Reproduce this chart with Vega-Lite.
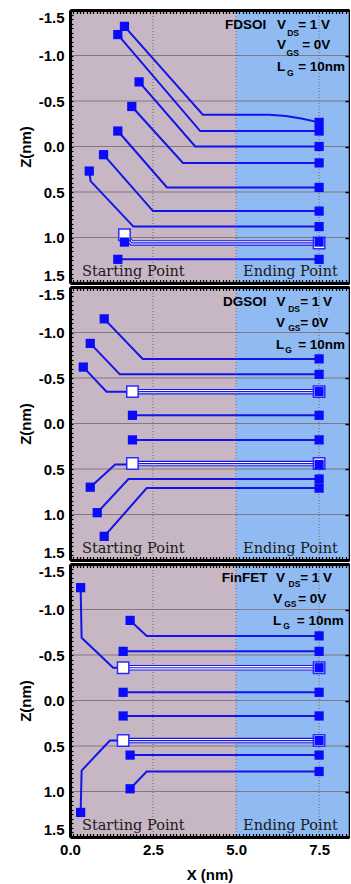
{
"$schema": "https://vega.github.io/schema/vega-lite/v6.json",
"background": "white",
"padding": {"left": 18, "top": 7, "right": 0, "bottom": 0},
"spacing": -4,
"config": {"view": {"stroke": null}},
"datasets": {
"bg": [{"x0": 0, "x1": 5, "zone": "device"}, {"x0": 5, "x1": 8.4, "zone": "contact"}],
"hgrid": [{"z": -1}, {"z": -0.5}, {"z": 0}, {"z": 0.5}, {"z": 1}],
"vgrid": [{"x": 2.5}, {"x": 5}, {"x": 7.5}],
"lines": [
{"p":"FDSOI","id":"F1","k":"filled","i":0,"pt":"s","x":1.64,"z":-1.32},
{"p":"FDSOI","id":"F1","k":"filled","i":1,"pt":"m","x":4.0,"z":-0.35},
{"p":"FDSOI","id":"F1","k":"filled","i":2,"pt":"m","x":6.0,"z":-0.35},
{"p":"FDSOI","id":"F1","k":"filled","i":3,"pt":"m","x":6.5,"z":-0.335},
{"p":"FDSOI","id":"F1","k":"filled","i":4,"pt":"m","x":7.0,"z":-0.305},
{"p":"FDSOI","id":"F1","k":"filled","i":5,"pt":"e","x":7.5,"z":-0.265},
{"p":"FDSOI","id":"F2","k":"filled","i":0,"pt":"s","x":1.44,"z":-1.23},
{"p":"FDSOI","id":"F2","k":"filled","i":1,"pt":"m","x":3.92,"z":-0.17},
{"p":"FDSOI","id":"F2","k":"filled","i":2,"pt":"e","x":7.5,"z":-0.17},
{"p":"FDSOI","id":"F3","k":"filled","i":0,"pt":"s","x":2.08,"z":-0.71},
{"p":"FDSOI","id":"F3","k":"filled","i":1,"pt":"m","x":3.77,"z":0.0},
{"p":"FDSOI","id":"F3","k":"filled","i":2,"pt":"e","x":7.5,"z":0.0},
{"p":"FDSOI","id":"F4","k":"filled","i":0,"pt":"s","x":1.86,"z":-0.44},
{"p":"FDSOI","id":"F4","k":"filled","i":1,"pt":"m","x":3.40,"z":0.18},
{"p":"FDSOI","id":"F4","k":"filled","i":2,"pt":"e","x":7.5,"z":0.18},
{"p":"FDSOI","id":"F5","k":"filled","i":0,"pt":"s","x":1.44,"z":-0.17},
{"p":"FDSOI","id":"F5","k":"filled","i":1,"pt":"m","x":2.92,"z":0.45},
{"p":"FDSOI","id":"F5","k":"filled","i":2,"pt":"e","x":7.5,"z":0.45},
{"p":"FDSOI","id":"F6","k":"filled","i":0,"pt":"s","x":1.01,"z":0.09},
{"p":"FDSOI","id":"F6","k":"filled","i":1,"pt":"m","x":2.50,"z":0.71},
{"p":"FDSOI","id":"F6","k":"filled","i":2,"pt":"e","x":7.5,"z":0.71},
{"p":"FDSOI","id":"F7","k":"filled","i":0,"pt":"s","x":0.58,"z":0.27},
{"p":"FDSOI","id":"F7","k":"filled","i":1,"pt":"m","x":0.62,"z":0.38},
{"p":"FDSOI","id":"F7","k":"filled","i":2,"pt":"m","x":1.91,"z":0.88},
{"p":"FDSOI","id":"F7","k":"filled","i":3,"pt":"e","x":7.5,"z":0.88},
{"p":"FDSOI","id":"F8","k":"hollow","i":0,"pt":"s","x":1.64,"z":0.97},
{"p":"FDSOI","id":"F8","k":"hollow","i":1,"pt":"m","x":1.86,"z":1.06},
{"p":"FDSOI","id":"F8","k":"hollow","i":2,"pt":"e","x":7.5,"z":1.06},
{"p":"FDSOI","id":"F9","k":"filled","i":0,"pt":"s","x":1.64,"z":1.05},
{"p":"FDSOI","id":"F9","k":"filled","i":1,"pt":"e","x":7.5,"z":1.05},
{"p":"FDSOI","id":"F10","k":"filled","i":0,"pt":"s","x":1.44,"z":1.24},
{"p":"FDSOI","id":"F10","k":"filled","i":1,"pt":"e","x":7.5,"z":1.24},
{"p":"DGSOI","id":"D1","k":"filled","i":0,"pt":"s","x":1.03,"z":-1.15},
{"p":"DGSOI","id":"D1","k":"filled","i":1,"pt":"m","x":2.19,"z":-0.71},
{"p":"DGSOI","id":"D1","k":"filled","i":2,"pt":"e","x":7.5,"z":-0.71},
{"p":"DGSOI","id":"D2","k":"filled","i":0,"pt":"s","x":0.61,"z":-0.88},
{"p":"DGSOI","id":"D2","k":"filled","i":1,"pt":"m","x":1.50,"z":-0.54},
{"p":"DGSOI","id":"D2","k":"filled","i":2,"pt":"e","x":7.5,"z":-0.54},
{"p":"DGSOI","id":"D3","k":"filled","i":0,"pt":"s","x":0.40,"z":-0.62},
{"p":"DGSOI","id":"D3","k":"filled","i":1,"pt":"m","x":1.10,"z":-0.35},
{"p":"DGSOI","id":"D3","k":"filled","i":2,"pt":"e","x":7.5,"z":-0.35},
{"p":"DGSOI","id":"D4","k":"hollow","i":0,"pt":"s","x":1.88,"z":-0.35},
{"p":"DGSOI","id":"D4","k":"hollow","i":1,"pt":"e","x":7.5,"z":-0.35},
{"p":"DGSOI","id":"D5","k":"filled","i":0,"pt":"s","x":1.88,"z":-0.09},
{"p":"DGSOI","id":"D5","k":"filled","i":1,"pt":"e","x":7.5,"z":-0.09},
{"p":"DGSOI","id":"D6","k":"filled","i":0,"pt":"s","x":1.88,"z":0.18},
{"p":"DGSOI","id":"D6","k":"filled","i":1,"pt":"e","x":7.5,"z":0.18},
{"p":"DGSOI","id":"D7","k":"hollow","i":0,"pt":"s","x":1.88,"z":0.44},
{"p":"DGSOI","id":"D7","k":"hollow","i":1,"pt":"e","x":7.5,"z":0.44},
{"p":"DGSOI","id":"D8","k":"filled","i":0,"pt":"s","x":0.61,"z":0.70},
{"p":"DGSOI","id":"D8","k":"filled","i":1,"pt":"m","x":1.36,"z":0.45},
{"p":"DGSOI","id":"D8","k":"filled","i":2,"pt":"e","x":7.5,"z":0.45},
{"p":"DGSOI","id":"D9","k":"filled","i":0,"pt":"s","x":0.82,"z":0.98},
{"p":"DGSOI","id":"D9","k":"filled","i":1,"pt":"m","x":1.76,"z":0.61},
{"p":"DGSOI","id":"D9","k":"filled","i":2,"pt":"e","x":7.5,"z":0.61},
{"p":"DGSOI","id":"D10","k":"filled","i":0,"pt":"s","x":1.03,"z":1.24},
{"p":"DGSOI","id":"D10","k":"filled","i":1,"pt":"m","x":2.31,"z":0.71},
{"p":"DGSOI","id":"D10","k":"filled","i":2,"pt":"e","x":7.5,"z":0.71},
{"p":"FinFET","id":"N1","k":"filled","i":0,"pt":"s","x":0.32,"z":-1.24},
{"p":"FinFET","id":"N1","k":"filled","i":1,"pt":"m","x":0.35,"z":-0.69},
{"p":"FinFET","id":"N1","k":"filled","i":2,"pt":"m","x":1.30,"z":-0.36},
{"p":"FinFET","id":"N1","k":"filled","i":3,"pt":"e","x":7.5,"z":-0.36},
{"p":"FinFET","id":"N2","k":"filled","i":0,"pt":"s","x":1.81,"z":-0.88},
{"p":"FinFET","id":"N2","k":"filled","i":1,"pt":"m","x":2.31,"z":-0.71},
{"p":"FinFET","id":"N2","k":"filled","i":2,"pt":"e","x":7.5,"z":-0.71},
{"p":"FinFET","id":"N3","k":"filled","i":0,"pt":"s","x":1.60,"z":-0.54},
{"p":"FinFET","id":"N3","k":"filled","i":1,"pt":"e","x":7.5,"z":-0.54},
{"p":"FinFET","id":"N4","k":"hollow","i":0,"pt":"s","x":1.60,"z":-0.36},
{"p":"FinFET","id":"N4","k":"hollow","i":1,"pt":"e","x":7.5,"z":-0.36},
{"p":"FinFET","id":"N5","k":"filled","i":0,"pt":"s","x":1.60,"z":-0.09},
{"p":"FinFET","id":"N5","k":"filled","i":1,"pt":"e","x":7.5,"z":-0.09},
{"p":"FinFET","id":"N6","k":"filled","i":0,"pt":"s","x":1.60,"z":0.17},
{"p":"FinFET","id":"N6","k":"filled","i":1,"pt":"e","x":7.5,"z":0.17},
{"p":"FinFET","id":"N7","k":"hollow","i":0,"pt":"s","x":1.60,"z":0.44},
{"p":"FinFET","id":"N7","k":"hollow","i":1,"pt":"e","x":7.5,"z":0.44},
{"p":"FinFET","id":"N8","k":"filled","i":0,"pt":"s","x":0.32,"z":1.23},
{"p":"FinFET","id":"N8","k":"filled","i":1,"pt":"m","x":0.35,"z":0.77},
{"p":"FinFET","id":"N8","k":"filled","i":2,"pt":"m","x":1.20,"z":0.44},
{"p":"FinFET","id":"N8","k":"filled","i":3,"pt":"e","x":7.5,"z":0.44},
{"p":"FinFET","id":"N9","k":"filled","i":0,"pt":"s","x":1.81,"z":0.60},
{"p":"FinFET","id":"N9","k":"filled","i":1,"pt":"e","x":7.5,"z":0.60},
{"p":"FinFET","id":"N10","k":"filled","i":0,"pt":"s","x":1.81,"z":0.97},
{"p":"FinFET","id":"N10","k":"filled","i":1,"pt":"m","x":2.31,"z":0.78},
{"p":"FinFET","id":"N10","k":"filled","i":2,"pt":"e","x":7.5,"z":0.78}
],
"labels": [
{"p":"FDSOI","t":"FDSOI","x":4.67,"z":-1.33},
{"p":"FDSOI","t":"V","x":6.23,"z":-1.33},
{"p":"FDSOI","t":"= 1 V","x":6.87,"z":-1.33},
{"p":"FDSOI","t":"V","x":6.23,"z":-1.11},
{"p":"FDSOI","t":"= 0V","x":6.99,"z":-1.11},
{"p":"FDSOI","t":"L","x":6.23,"z":-0.87},
{"p":"FDSOI","t":"= 10nm","x":6.87,"z":-0.87},
{"p":"DGSOI","t":"DGSOI","x":4.61,"z":-1.34},
{"p":"DGSOI","t":"V","x":6.22,"z":-1.34},
{"p":"DGSOI","t":"= 1 V","x":6.93,"z":-1.34},
{"p":"DGSOI","t":"V","x":6.2,"z":-1.10},
{"p":"DGSOI","t":"= 0V","x":6.93,"z":-1.10},
{"p":"DGSOI","t":"L","x":6.2,"z":-0.86},
{"p":"DGSOI","t":"= 10nm","x":6.87,"z":-0.86},
{"p":"FinFET","t":"FinFET","x":4.57,"z":-1.35},
{"p":"FinFET","t":"V","x":6.2,"z":-1.35},
{"p":"FinFET","t":"= 1 V","x":6.93,"z":-1.35},
{"p":"FinFET","t":"V","x":6.12,"z":-1.11},
{"p":"FinFET","t":"= 0V","x":6.87,"z":-1.11},
{"p":"FinFET","t":"L","x":6.11,"z":-0.87},
{"p":"FinFET","t":"= 10nm","x":6.83,"z":-0.87}
],
"subs": [
{"p":"FDSOI","t":"DS","x":6.54,"z":-1.25},
{"p":"FDSOI","t":"GS","x":6.52,"z":-1.03},
{"p":"FDSOI","t":"G","x":6.53,"z":-0.81},
{"p":"DGSOI","t":"DS","x":6.57,"z":-1.26},
{"p":"DGSOI","t":"GS","x":6.57,"z":-1.05},
{"p":"DGSOI","t":"G","x":6.48,"z":-0.81},
{"p":"FinFET","t":"DS","x":6.58,"z":-1.275},
{"p":"FinFET","t":"GS","x":6.45,"z":-1.06},
{"p":"FinFET","t":"G","x":6.42,"z":-0.82}
],
"notes": [
{"p":"FDSOI","t":"Starting Point","x":0.36,"z":1.38},
{"p":"FDSOI","t":"Ending Point","x":5.21,"z":1.38},
{"p":"DGSOI","t":"Starting Point","x":0.36,"z":1.38},
{"p":"DGSOI","t":"Ending Point","x":5.21,"z":1.38},
{"p":"FinFET","t":"Starting Point","x":0.36,"z":1.38},
{"p":"FinFET","t":"Ending Point","x":5.21,"z":1.38}
]
},
"vconcat": [
{
"width": 279, "height": 273,
"resolve": {"axis": {"x": "independent", "y": "independent"}},
"layer": [
{"data": {"name": "bg"}, "mark": {"type": "rect"},
 "encoding": {
  "x": {"field": "x0", "type": "quantitative", "scale": {"domain": [0, 8.4], "nice": false, "zero": false},
   "axis": {"orient": "bottom", "tickCount": 84, "tickSize": -3.5, "tickWidth": 1.2, "tickColor": "black", "domainColor": "black", "domainWidth": 3, "grid": false, "labels": false, "title": null, "zindex": 1}},
  "x2": {"field": "x1"},
  "y": {"datum": -1.5, "type": "quantitative", "scale": {"domain": [-1.5, 1.5], "reverse": true, "nice": false, "zero": false}, "axis": null},
  "y2": {"datum": 1.5},
  "color": {"field": "zone", "type": "nominal", "scale": {"domain": ["device", "contact"], "range": ["#c7b6c4", "#8fbaf2"]}, "legend": null}}},
{"data": {"name": "hgrid"}, "mark": {"type": "rule", "color": "#85767f", "strokeWidth": 1},
 "encoding": {
  "x": {"datum": 0, "type": "quantitative", "scale": {"domain": [0, 8.4], "nice": false, "zero": false}, "axis": null},
  "x2": {"datum": 8.4},
  "y": {"field": "z", "type": "quantitative", "scale": {"domain": [-1.5, 1.5], "reverse": true, "nice": false, "zero": false},
   "axis": {"orient": "left", "tickCount": 60, "tickSize": -3, "tickWidth": 1.2, "tickColor": "black", "domainColor": "black", "domainWidth": 3, "grid": false,
    "labelExpr": "abs(datum.value*2-round(datum.value*2))<0.001 ? (datum.value<0?'-':'')+format(abs(datum.value),'.1f') : ''",
    "labelOverlap": false, "labelFlush": true, "labelFont": "Liberation Sans", "labelFontWeight": "bold", "labelFontSize": 15, "labelColor": "black", "labelPadding": 9,
    "title": "Z(nm)", "titleFont": "Liberation Sans", "titleFontWeight": "bold", "titleFontSize": 15, "titleColor": "black", "titlePadding": 5, "zindex": 1}}}},
{"data": {"name": "vgrid"}, "mark": {"type": "rule", "color": "#6f6670", "strokeWidth": 1, "strokeDash": [1, 2]},
 "encoding": {
  "x": {"field": "x", "type": "quantitative", "scale": {"domain": [0, 8.4], "nice": false, "zero": false},
   "axis": {"orient": "top", "tickCount": 84, "tickSize": -3.5, "tickWidth": 1.2, "tickColor": "black", "domainColor": "black", "domainWidth": 3, "grid": false, "labels": false, "title": null, "zindex": 1}},
  "y": {"datum": -1.5, "type": "quantitative", "scale": {"domain": [-1.5, 1.5], "reverse": true, "nice": false, "zero": false}, "axis": null},
  "y2": {"datum": 1.5}}},
{"data": {"name": "lines"}, "transform": [{"filter": {"and": [{"field": "p", "equal": "FDSOI"}, {"field": "k", "equal": "filled"}]}}],
 "mark": {"type": "line", "color": "#1414e6", "strokeWidth": 2},
 "encoding": {
  "x": {"field": "x", "type": "quantitative", "scale": {"domain": [0, 8.4], "nice": false, "zero": false}, "axis": null},
  "y": {"field": "z", "type": "quantitative", "scale": {"domain": [-1.5, 1.5], "reverse": true, "nice": false, "zero": false},
   "axis": {"orient": "right", "values": [-1.5, -1, -0.5, 0, 0.5, 1, 1.5], "tickSize": -4, "tickWidth": 1.5, "tickColor": "black", "domainColor": "black", "domainWidth": 1.5, "grid": false, "labels": false, "title": null, "zindex": 1}},
  "detail": {"field": "id"}, "order": {"field": "i"}}},
{"data": {"name": "lines"}, "transform": [{"filter": {"and": [{"field": "p", "equal": "FDSOI"}, {"field": "k", "equal": "hollow"}]}}],
 "mark": {"type": "line", "color": "#1414e6", "strokeWidth": 5.5},
 "encoding": {
  "x": {"field": "x", "type": "quantitative", "scale": {"domain": [0, 8.4], "nice": false, "zero": false}, "axis": null},
  "y": {"field": "z", "type": "quantitative", "scale": {"domain": [-1.5, 1.5], "reverse": true, "nice": false, "zero": false}, "axis": null},
  "detail": {"field": "id"}, "order": {"field": "i"}}},
{"data": {"name": "lines"}, "transform": [{"filter": {"and": [{"field": "p", "equal": "FDSOI"}, {"field": "k", "equal": "hollow"}]}}],
 "mark": {"type": "line", "color": "white", "strokeWidth": 3.3},
 "encoding": {
  "x": {"field": "x", "type": "quantitative", "scale": {"domain": [0, 8.4], "nice": false, "zero": false}, "axis": null},
  "y": {"field": "z", "type": "quantitative", "scale": {"domain": [-1.5, 1.5], "reverse": true, "nice": false, "zero": false}, "axis": null},
  "detail": {"field": "id"}, "order": {"field": "i"}}},
{"data": {"name": "lines"}, "transform": [{"filter": {"and": [{"field": "p", "equal": "FDSOI"}, {"field": "k", "equal": "hollow"}]}}],
 "mark": {"type": "line", "color": "#1414e6", "strokeWidth": 1.2},
 "encoding": {
  "x": {"field": "x", "type": "quantitative", "scale": {"domain": [0, 8.4], "nice": false, "zero": false}, "axis": null},
  "y": {"field": "z", "type": "quantitative", "scale": {"domain": [-1.5, 1.5], "reverse": true, "nice": false, "zero": false}, "axis": null},
  "detail": {"field": "id"}, "order": {"field": "i"}}},
{"data": {"name": "lines"}, "transform": [{"filter": {"and": [{"field": "p", "equal": "FDSOI"}, {"field": "k", "equal": "hollow"}, {"not": {"field": "pt", "equal": "m"}}]}}],
 "mark": {"type": "point", "shape": "square", "size": 130, "filled": true, "fill": "white", "stroke": "#2a2aff", "strokeWidth": 1.5, "opacity": 1},
 "encoding": {
  "x": {"field": "x", "type": "quantitative", "scale": {"domain": [0, 8.4], "nice": false, "zero": false}, "axis": null},
  "y": {"field": "z", "type": "quantitative", "scale": {"domain": [-1.5, 1.5], "reverse": true, "nice": false, "zero": false}, "axis": null}}},
{"data": {"name": "lines"}, "transform": [{"filter": {"and": [{"field": "p", "equal": "FDSOI"}, {"field": "k", "equal": "filled"}, {"not": {"field": "pt", "equal": "m"}}]}}],
 "mark": {"type": "square", "size": 85, "color": "#0a0aff", "opacity": 1},
 "encoding": {
  "x": {"field": "x", "type": "quantitative", "scale": {"domain": [0, 8.4], "nice": false, "zero": false}, "axis": null},
  "y": {"field": "z", "type": "quantitative", "scale": {"domain": [-1.5, 1.5], "reverse": true, "nice": false, "zero": false}, "axis": null}}},
{"data": {"name": "labels"}, "transform": [{"filter": {"field": "p", "equal": "FDSOI"}}],
 "mark": {"type": "text", "align": "left", "baseline": "middle", "font": "Liberation Sans", "fontWeight": "bold", "fontSize": 13.5, "color": "black"},
 "encoding": {
  "x": {"field": "x", "type": "quantitative", "scale": {"domain": [0, 8.4], "nice": false, "zero": false}, "axis": null},
  "y": {"field": "z", "type": "quantitative", "scale": {"domain": [-1.5, 1.5], "reverse": true, "nice": false, "zero": false}, "axis": null},
  "text": {"field": "t"}}},
{"data": {"name": "subs"}, "transform": [{"filter": {"field": "p", "equal": "FDSOI"}}],
 "mark": {"type": "text", "align": "left", "baseline": "middle", "font": "Liberation Sans", "fontWeight": "bold", "fontSize": 8.5, "color": "black"},
 "encoding": {
  "x": {"field": "x", "type": "quantitative", "scale": {"domain": [0, 8.4], "nice": false, "zero": false}, "axis": null},
  "y": {"field": "z", "type": "quantitative", "scale": {"domain": [-1.5, 1.5], "reverse": true, "nice": false, "zero": false}, "axis": null},
  "text": {"field": "t"}}},
{"data": {"name": "notes"}, "transform": [{"filter": {"field": "p", "equal": "FDSOI"}}],
 "mark": {"type": "text", "align": "left", "baseline": "middle", "font": "DejaVu Serif", "fontSize": 14.5, "color": "#1a1a1a"},
 "encoding": {
  "x": {"field": "x", "type": "quantitative", "scale": {"domain": [0, 8.4], "nice": false, "zero": false}, "axis": null},
  "y": {"field": "z", "type": "quantitative", "scale": {"domain": [-1.5, 1.5], "reverse": true, "nice": false, "zero": false}, "axis": null},
  "text": {"field": "t"}}}
]
},
{
"width": 279, "height": 273,
"resolve": {"axis": {"x": "independent", "y": "independent"}},
"layer": [
{"data": {"name": "bg"}, "mark": {"type": "rect"},
 "encoding": {
  "x": {"field": "x0", "type": "quantitative", "scale": {"domain": [0, 8.4], "nice": false, "zero": false},
   "axis": {"orient": "bottom", "tickCount": 84, "tickSize": -3.5, "tickWidth": 1.2, "tickColor": "black", "domainColor": "black", "domainWidth": 3, "grid": false, "labels": false, "title": null, "zindex": 1}},
  "x2": {"field": "x1"},
  "y": {"datum": -1.5, "type": "quantitative", "scale": {"domain": [-1.5, 1.5], "reverse": true, "nice": false, "zero": false}, "axis": null},
  "y2": {"datum": 1.5},
  "color": {"field": "zone", "type": "nominal", "scale": {"domain": ["device", "contact"], "range": ["#c7b6c4", "#8fbaf2"]}, "legend": null}}},
{"data": {"name": "hgrid"}, "mark": {"type": "rule", "color": "#85767f", "strokeWidth": 1},
 "encoding": {
  "x": {"datum": 0, "type": "quantitative", "scale": {"domain": [0, 8.4], "nice": false, "zero": false}, "axis": null},
  "x2": {"datum": 8.4},
  "y": {"field": "z", "type": "quantitative", "scale": {"domain": [-1.5, 1.5], "reverse": true, "nice": false, "zero": false},
   "axis": {"orient": "left", "tickCount": 60, "tickSize": -3, "tickWidth": 1.2, "tickColor": "black", "domainColor": "black", "domainWidth": 3, "grid": false,
    "labelExpr": "abs(datum.value*2-round(datum.value*2))<0.001 ? (datum.value<0?'-':'')+format(abs(datum.value),'.1f') : ''",
    "labelOverlap": false, "labelFlush": true, "labelFont": "Liberation Sans", "labelFontWeight": "bold", "labelFontSize": 15, "labelColor": "black", "labelPadding": 9,
    "title": "Z(nm)", "titleFont": "Liberation Sans", "titleFontWeight": "bold", "titleFontSize": 15, "titleColor": "black", "titlePadding": 5, "zindex": 1}}}},
{"data": {"name": "vgrid"}, "mark": {"type": "rule", "color": "#6f6670", "strokeWidth": 1, "strokeDash": [1, 2]},
 "encoding": {
  "x": {"field": "x", "type": "quantitative", "scale": {"domain": [0, 8.4], "nice": false, "zero": false},
   "axis": {"orient": "top", "tickCount": 84, "tickSize": -3.5, "tickWidth": 1.2, "tickColor": "black", "domainColor": "black", "domainWidth": 3, "grid": false, "labels": false, "title": null, "zindex": 1}},
  "y": {"datum": -1.5, "type": "quantitative", "scale": {"domain": [-1.5, 1.5], "reverse": true, "nice": false, "zero": false}, "axis": null},
  "y2": {"datum": 1.5}}},
{"data": {"name": "lines"}, "transform": [{"filter": {"and": [{"field": "p", "equal": "DGSOI"}, {"field": "k", "equal": "filled"}]}}],
 "mark": {"type": "line", "color": "#1414e6", "strokeWidth": 2},
 "encoding": {
  "x": {"field": "x", "type": "quantitative", "scale": {"domain": [0, 8.4], "nice": false, "zero": false}, "axis": null},
  "y": {"field": "z", "type": "quantitative", "scale": {"domain": [-1.5, 1.5], "reverse": true, "nice": false, "zero": false},
   "axis": {"orient": "right", "values": [-1.5, -1, -0.5, 0, 0.5, 1, 1.5], "tickSize": -4, "tickWidth": 1.5, "tickColor": "black", "domainColor": "black", "domainWidth": 1.5, "grid": false, "labels": false, "title": null, "zindex": 1}},
  "detail": {"field": "id"}, "order": {"field": "i"}}},
{"data": {"name": "lines"}, "transform": [{"filter": {"and": [{"field": "p", "equal": "DGSOI"}, {"field": "k", "equal": "hollow"}]}}],
 "mark": {"type": "line", "color": "#1414e6", "strokeWidth": 5.5},
 "encoding": {
  "x": {"field": "x", "type": "quantitative", "scale": {"domain": [0, 8.4], "nice": false, "zero": false}, "axis": null},
  "y": {"field": "z", "type": "quantitative", "scale": {"domain": [-1.5, 1.5], "reverse": true, "nice": false, "zero": false}, "axis": null},
  "detail": {"field": "id"}, "order": {"field": "i"}}},
{"data": {"name": "lines"}, "transform": [{"filter": {"and": [{"field": "p", "equal": "DGSOI"}, {"field": "k", "equal": "hollow"}]}}],
 "mark": {"type": "line", "color": "white", "strokeWidth": 3.3},
 "encoding": {
  "x": {"field": "x", "type": "quantitative", "scale": {"domain": [0, 8.4], "nice": false, "zero": false}, "axis": null},
  "y": {"field": "z", "type": "quantitative", "scale": {"domain": [-1.5, 1.5], "reverse": true, "nice": false, "zero": false}, "axis": null},
  "detail": {"field": "id"}, "order": {"field": "i"}}},
{"data": {"name": "lines"}, "transform": [{"filter": {"and": [{"field": "p", "equal": "DGSOI"}, {"field": "k", "equal": "hollow"}]}}],
 "mark": {"type": "line", "color": "#1414e6", "strokeWidth": 1.2},
 "encoding": {
  "x": {"field": "x", "type": "quantitative", "scale": {"domain": [0, 8.4], "nice": false, "zero": false}, "axis": null},
  "y": {"field": "z", "type": "quantitative", "scale": {"domain": [-1.5, 1.5], "reverse": true, "nice": false, "zero": false}, "axis": null},
  "detail": {"field": "id"}, "order": {"field": "i"}}},
{"data": {"name": "lines"}, "transform": [{"filter": {"and": [{"field": "p", "equal": "DGSOI"}, {"field": "k", "equal": "hollow"}, {"not": {"field": "pt", "equal": "m"}}]}}],
 "mark": {"type": "point", "shape": "square", "size": 130, "filled": true, "fill": "white", "stroke": "#2a2aff", "strokeWidth": 1.5, "opacity": 1},
 "encoding": {
  "x": {"field": "x", "type": "quantitative", "scale": {"domain": [0, 8.4], "nice": false, "zero": false}, "axis": null},
  "y": {"field": "z", "type": "quantitative", "scale": {"domain": [-1.5, 1.5], "reverse": true, "nice": false, "zero": false}, "axis": null}}},
{"data": {"name": "lines"}, "transform": [{"filter": {"and": [{"field": "p", "equal": "DGSOI"}, {"field": "k", "equal": "filled"}, {"not": {"field": "pt", "equal": "m"}}]}}],
 "mark": {"type": "square", "size": 85, "color": "#0a0aff", "opacity": 1},
 "encoding": {
  "x": {"field": "x", "type": "quantitative", "scale": {"domain": [0, 8.4], "nice": false, "zero": false}, "axis": null},
  "y": {"field": "z", "type": "quantitative", "scale": {"domain": [-1.5, 1.5], "reverse": true, "nice": false, "zero": false}, "axis": null}}},
{"data": {"name": "labels"}, "transform": [{"filter": {"field": "p", "equal": "DGSOI"}}],
 "mark": {"type": "text", "align": "left", "baseline": "middle", "font": "Liberation Sans", "fontWeight": "bold", "fontSize": 13.5, "color": "black"},
 "encoding": {
  "x": {"field": "x", "type": "quantitative", "scale": {"domain": [0, 8.4], "nice": false, "zero": false}, "axis": null},
  "y": {"field": "z", "type": "quantitative", "scale": {"domain": [-1.5, 1.5], "reverse": true, "nice": false, "zero": false}, "axis": null},
  "text": {"field": "t"}}},
{"data": {"name": "subs"}, "transform": [{"filter": {"field": "p", "equal": "DGSOI"}}],
 "mark": {"type": "text", "align": "left", "baseline": "middle", "font": "Liberation Sans", "fontWeight": "bold", "fontSize": 8.5, "color": "black"},
 "encoding": {
  "x": {"field": "x", "type": "quantitative", "scale": {"domain": [0, 8.4], "nice": false, "zero": false}, "axis": null},
  "y": {"field": "z", "type": "quantitative", "scale": {"domain": [-1.5, 1.5], "reverse": true, "nice": false, "zero": false}, "axis": null},
  "text": {"field": "t"}}},
{"data": {"name": "notes"}, "transform": [{"filter": {"field": "p", "equal": "DGSOI"}}],
 "mark": {"type": "text", "align": "left", "baseline": "middle", "font": "DejaVu Serif", "fontSize": 14.5, "color": "#1a1a1a"},
 "encoding": {
  "x": {"field": "x", "type": "quantitative", "scale": {"domain": [0, 8.4], "nice": false, "zero": false}, "axis": null},
  "y": {"field": "z", "type": "quantitative", "scale": {"domain": [-1.5, 1.5], "reverse": true, "nice": false, "zero": false}, "axis": null},
  "text": {"field": "t"}}}
]
},
{
"width": 279, "height": 273,
"resolve": {"axis": {"x": "independent", "y": "independent"}},
"layer": [
{"data": {"name": "bg"}, "mark": {"type": "rect"},
 "encoding": {
  "x": {"field": "x0", "type": "quantitative", "scale": {"domain": [0, 8.4], "nice": false, "zero": false},
   "axis": {"orient": "bottom", "tickCount": 84, "tickSize": -3.5, "tickWidth": 1.2, "tickColor": "black", "domainColor": "black", "domainWidth": 3, "grid": false,
    "labelExpr": "abs(datum.value/2.5-round(datum.value/2.5))<0.001 ? format(datum.value,'.1f') : ''",
    "labelOverlap": false, "labelFlush": false, "labelFont": "Liberation Sans", "labelFontWeight": "bold", "labelFontSize": 15, "labelColor": "black", "labelPadding": 9,
    "title": "X (nm)", "titleFont": "Liberation Sans", "titleFontWeight": "bold", "titleFontSize": 15, "titleColor": "black", "titlePadding": 10, "zindex": 1}},
  "x2": {"field": "x1"},
  "y": {"datum": -1.5, "type": "quantitative", "scale": {"domain": [-1.5, 1.5], "reverse": true, "nice": false, "zero": false}, "axis": null},
  "y2": {"datum": 1.5},
  "color": {"field": "zone", "type": "nominal", "scale": {"domain": ["device", "contact"], "range": ["#c7b6c4", "#8fbaf2"]}, "legend": null}}},
{"data": {"name": "hgrid"}, "mark": {"type": "rule", "color": "#85767f", "strokeWidth": 1},
 "encoding": {
  "x": {"datum": 0, "type": "quantitative", "scale": {"domain": [0, 8.4], "nice": false, "zero": false}, "axis": null},
  "x2": {"datum": 8.4},
  "y": {"field": "z", "type": "quantitative", "scale": {"domain": [-1.5, 1.5], "reverse": true, "nice": false, "zero": false},
   "axis": {"orient": "left", "tickCount": 60, "tickSize": -3, "tickWidth": 1.2, "tickColor": "black", "domainColor": "black", "domainWidth": 3, "grid": false,
    "labelExpr": "abs(datum.value*2-round(datum.value*2))<0.001 ? (datum.value<0?'-':'')+format(abs(datum.value),'.1f') : ''",
    "labelOverlap": false, "labelFlush": true, "labelFont": "Liberation Sans", "labelFontWeight": "bold", "labelFontSize": 15, "labelColor": "black", "labelPadding": 9,
    "title": "Z(nm)", "titleFont": "Liberation Sans", "titleFontWeight": "bold", "titleFontSize": 15, "titleColor": "black", "titlePadding": 5, "zindex": 1}}}},
{"data": {"name": "vgrid"}, "mark": {"type": "rule", "color": "#6f6670", "strokeWidth": 1, "strokeDash": [1, 2]},
 "encoding": {
  "x": {"field": "x", "type": "quantitative", "scale": {"domain": [0, 8.4], "nice": false, "zero": false},
   "axis": {"orient": "top", "tickCount": 84, "tickSize": -3.5, "tickWidth": 1.2, "tickColor": "black", "domainColor": "black", "domainWidth": 3, "grid": false, "labels": false, "title": null, "zindex": 1}},
  "y": {"datum": -1.5, "type": "quantitative", "scale": {"domain": [-1.5, 1.5], "reverse": true, "nice": false, "zero": false}, "axis": null},
  "y2": {"datum": 1.5}}},
{"data": {"name": "lines"}, "transform": [{"filter": {"and": [{"field": "p", "equal": "FinFET"}, {"field": "k", "equal": "filled"}]}}],
 "mark": {"type": "line", "color": "#1414e6", "strokeWidth": 2},
 "encoding": {
  "x": {"field": "x", "type": "quantitative", "scale": {"domain": [0, 8.4], "nice": false, "zero": false}, "axis": null},
  "y": {"field": "z", "type": "quantitative", "scale": {"domain": [-1.5, 1.5], "reverse": true, "nice": false, "zero": false},
   "axis": {"orient": "right", "values": [-1.5, -1, -0.5, 0, 0.5, 1, 1.5], "tickSize": -4, "tickWidth": 1.5, "tickColor": "black", "domainColor": "black", "domainWidth": 1.5, "grid": false, "labels": false, "title": null, "zindex": 1}},
  "detail": {"field": "id"}, "order": {"field": "i"}}},
{"data": {"name": "lines"}, "transform": [{"filter": {"and": [{"field": "p", "equal": "FinFET"}, {"field": "k", "equal": "hollow"}]}}],
 "mark": {"type": "line", "color": "#1414e6", "strokeWidth": 5.5},
 "encoding": {
  "x": {"field": "x", "type": "quantitative", "scale": {"domain": [0, 8.4], "nice": false, "zero": false}, "axis": null},
  "y": {"field": "z", "type": "quantitative", "scale": {"domain": [-1.5, 1.5], "reverse": true, "nice": false, "zero": false}, "axis": null},
  "detail": {"field": "id"}, "order": {"field": "i"}}},
{"data": {"name": "lines"}, "transform": [{"filter": {"and": [{"field": "p", "equal": "FinFET"}, {"field": "k", "equal": "hollow"}]}}],
 "mark": {"type": "line", "color": "white", "strokeWidth": 3.3},
 "encoding": {
  "x": {"field": "x", "type": "quantitative", "scale": {"domain": [0, 8.4], "nice": false, "zero": false}, "axis": null},
  "y": {"field": "z", "type": "quantitative", "scale": {"domain": [-1.5, 1.5], "reverse": true, "nice": false, "zero": false}, "axis": null},
  "detail": {"field": "id"}, "order": {"field": "i"}}},
{"data": {"name": "lines"}, "transform": [{"filter": {"and": [{"field": "p", "equal": "FinFET"}, {"field": "k", "equal": "hollow"}]}}],
 "mark": {"type": "line", "color": "#1414e6", "strokeWidth": 1.2},
 "encoding": {
  "x": {"field": "x", "type": "quantitative", "scale": {"domain": [0, 8.4], "nice": false, "zero": false}, "axis": null},
  "y": {"field": "z", "type": "quantitative", "scale": {"domain": [-1.5, 1.5], "reverse": true, "nice": false, "zero": false}, "axis": null},
  "detail": {"field": "id"}, "order": {"field": "i"}}},
{"data": {"name": "lines"}, "transform": [{"filter": {"and": [{"field": "p", "equal": "FinFET"}, {"field": "k", "equal": "hollow"}, {"not": {"field": "pt", "equal": "m"}}]}}],
 "mark": {"type": "point", "shape": "square", "size": 130, "filled": true, "fill": "white", "stroke": "#2a2aff", "strokeWidth": 1.5, "opacity": 1},
 "encoding": {
  "x": {"field": "x", "type": "quantitative", "scale": {"domain": [0, 8.4], "nice": false, "zero": false}, "axis": null},
  "y": {"field": "z", "type": "quantitative", "scale": {"domain": [-1.5, 1.5], "reverse": true, "nice": false, "zero": false}, "axis": null}}},
{"data": {"name": "lines"}, "transform": [{"filter": {"and": [{"field": "p", "equal": "FinFET"}, {"field": "k", "equal": "filled"}, {"not": {"field": "pt", "equal": "m"}}]}}],
 "mark": {"type": "square", "size": 85, "color": "#0a0aff", "opacity": 1},
 "encoding": {
  "x": {"field": "x", "type": "quantitative", "scale": {"domain": [0, 8.4], "nice": false, "zero": false}, "axis": null},
  "y": {"field": "z", "type": "quantitative", "scale": {"domain": [-1.5, 1.5], "reverse": true, "nice": false, "zero": false}, "axis": null}}},
{"data": {"name": "labels"}, "transform": [{"filter": {"field": "p", "equal": "FinFET"}}],
 "mark": {"type": "text", "align": "left", "baseline": "middle", "font": "Liberation Sans", "fontWeight": "bold", "fontSize": 13.5, "color": "black"},
 "encoding": {
  "x": {"field": "x", "type": "quantitative", "scale": {"domain": [0, 8.4], "nice": false, "zero": false}, "axis": null},
  "y": {"field": "z", "type": "quantitative", "scale": {"domain": [-1.5, 1.5], "reverse": true, "nice": false, "zero": false}, "axis": null},
  "text": {"field": "t"}}},
{"data": {"name": "subs"}, "transform": [{"filter": {"field": "p", "equal": "FinFET"}}],
 "mark": {"type": "text", "align": "left", "baseline": "middle", "font": "Liberation Sans", "fontWeight": "bold", "fontSize": 8.5, "color": "black"},
 "encoding": {
  "x": {"field": "x", "type": "quantitative", "scale": {"domain": [0, 8.4], "nice": false, "zero": false}, "axis": null},
  "y": {"field": "z", "type": "quantitative", "scale": {"domain": [-1.5, 1.5], "reverse": true, "nice": false, "zero": false}, "axis": null},
  "text": {"field": "t"}}},
{"data": {"name": "notes"}, "transform": [{"filter": {"field": "p", "equal": "FinFET"}}],
 "mark": {"type": "text", "align": "left", "baseline": "middle", "font": "DejaVu Serif", "fontSize": 14.5, "color": "#1a1a1a"},
 "encoding": {
  "x": {"field": "x", "type": "quantitative", "scale": {"domain": [0, 8.4], "nice": false, "zero": false}, "axis": null},
  "y": {"field": "z", "type": "quantitative", "scale": {"domain": [-1.5, 1.5], "reverse": true, "nice": false, "zero": false}, "axis": null},
  "text": {"field": "t"}}}
]
}
]
}
